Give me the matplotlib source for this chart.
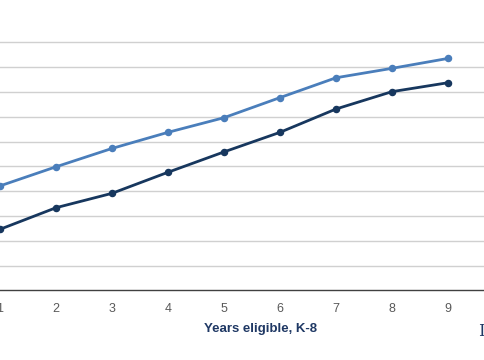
import matplotlib
matplotlib.use("Agg")
import matplotlib.pyplot as plt

years = [1, 2, 3, 4, 5, 6, 7, 8, 9]
tick_labels = ["1", "2", "3", "4", "5", "6", "7", "8", "9"]
series_light = [4.21, 4.98, 5.72, 6.37, 6.96, 7.77, 8.57, 8.95, 9.35]
series_dark = [2.46, 3.33, 3.91, 4.76, 5.58, 6.37, 7.31, 8.01, 8.37]
x_label = "Years eligible, K-8"

plt.rcParams['font.family'] = ['Liberation Sans', 'DejaVu Sans']

fig = plt.figure(figsize=(4.85, 3.6), dpi=100)
bottom = (360 - 290.3) / 360
height = 11 * 24.8 / 360
ax = fig.add_axes([0, bottom, 1, height])

ax.plot(years, series_light, color="#4A7EBB", lw=2.0, marker="o", ms=4.4, zorder=3)
ax.plot(years, series_dark, color="#17375E", lw=2.0, marker="o", ms=4.4, zorder=3)

ax.set_xlim(1, 1 + 485 / 56)
ax.set_ylim(0, 11)
ax.set_yticks(range(1, 11))
ax.yaxis.grid(True, color="#D0D0D0", lw=1.0)
ax.set_axisbelow(True)
ax.tick_params(axis="y", left=False, labelleft=False)
ax.set_xticks(years)
ax.set_xticklabels(tick_labels, color="#595959", fontsize=9)
ax.tick_params(axis="x", length=0, pad=9)
for s in ["top", "right", "left"]:
    ax.spines[s].set_visible(False)
ax.spines["bottom"].set_color("#404040")
ax.spines["bottom"].set_linewidth(1.0)

fig.text(260.5 / 485, 1 - 329 / 360, x_label, ha="center", va="center",
         fontsize=9.5, fontweight="bold", color="#1F3864")
fig.text(478 / 485, 1 - 331 / 360, "I", ha="left", va="center",
         fontsize=12, color="#1F3864", family="DejaVu Serif")

fig.savefig("out.png", dpi=100)
